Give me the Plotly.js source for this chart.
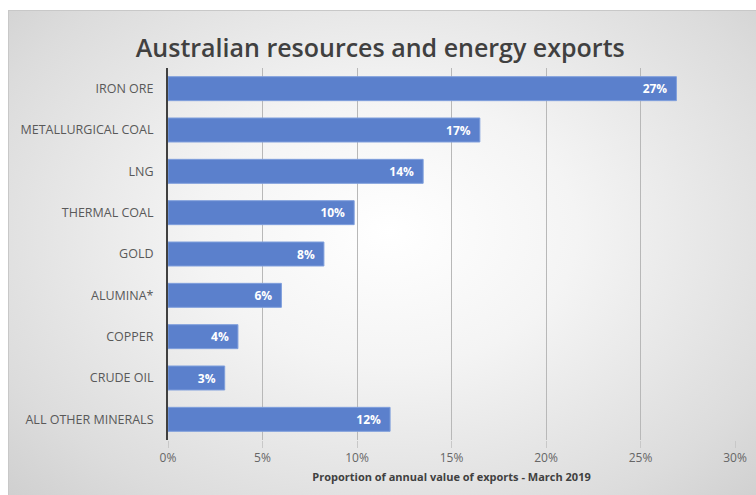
<!DOCTYPE html>
<html><head><meta charset="utf-8">
<script src="https://cdn.plot.ly/plotly-3.0.1.min.js"></script>
<style>
html,body{margin:0;padding:0;background:#fff;}
#frame{position:absolute;left:8px;top:10px;width:760px;height:490px;
 background:radial-gradient(ellipse at 50% 45%, #ffffff 0%, #f4f4f4 35%, #dcdcdc 80%, #cfcfcf 100%);
 border-top:1px solid #c8c8c8;border-left:1px solid #c8c8c8;}
#chart{position:absolute;left:0;top:0;width:756px;height:495px;}
</style></head>
<body>
<div id="frame"></div>
<div id="chart"></div>
<script>
const categories = ["IRON ORE","METALLURGICAL COAL","LNG","THERMAL COAL","GOLD","ALUMINA*","COPPER","CRUDE OIL","ALL OTHER MINERALS"];
const shares = [26.9, 16.5, 13.5, 9.85, 8.25, 6.0, 3.7, 3.0, 11.75];
const labels = ["27%","17%","14%","10%","8%","6%","4%","3%","12%"];
const tickVals = [0,5,10,15,20,25,30];
const tickText = ["0%","5%","10%","15%","20%","25%","30%"];

const trace = {
  type:'bar', orientation:'h',
  y: categories, x: shares,
  text: labels, texttemplate:'%{text}\u00a0\u00a0', textposition:'inside', insidetextanchor:'end',
  textfont:{family:'Open Sans, sans-serif', size:12, color:'#ffffff', weight:700},
  marker:{color:'#5b80cc', line:{color:'#7f9fdc', width:1}},
  width:0.58, hoverinfo:'skip', cliponaxis:false
};
const layout = {
  width:756, height:495,
  margin:{l:168, r:21, t:68, b:55},
  paper_bgcolor:'rgba(0,0,0,0)', plot_bgcolor:'rgba(0,0,0,0)',
  showlegend:false,
  title:{text:'Australian resources and energy exports', x:0.503, xanchor:'center', y:0.903, yanchor:'middle',
    font:{family:'Open Sans, sans-serif', size:25, color:'#404040', weight:600}},
  xaxis:{range:[0,30], tickvals:tickVals, ticktext:tickText, showgrid:true, gridcolor:'#b8b8b8', gridwidth:1,
    zeroline:false, showline:false, ticks:'outside', ticklen:7, tickcolor:'#c8c8c8',
    tickfont:{family:'Open Sans, sans-serif', size:12, color:'#666666'},
    title:{text:'Proportion of annual value of exports - March 2019', standoff:7,
      font:{family:'Open Sans, sans-serif', size:11, color:'#404040', weight:700}}},
  yaxis:{autorange:'reversed', showline:true, linecolor:'#404040', linewidth:2, showgrid:false,
    ticks:'', ticklabelstandoff:10,
    tickfont:{family:'Open Sans, sans-serif', size:12.5, color:'#595959'}},
  font:{family:'Open Sans, sans-serif'}
};
Plotly.newPlot('chart',[trace],layout,{displayModeBar:false, staticPlot:true});
</script>
</body></html>
